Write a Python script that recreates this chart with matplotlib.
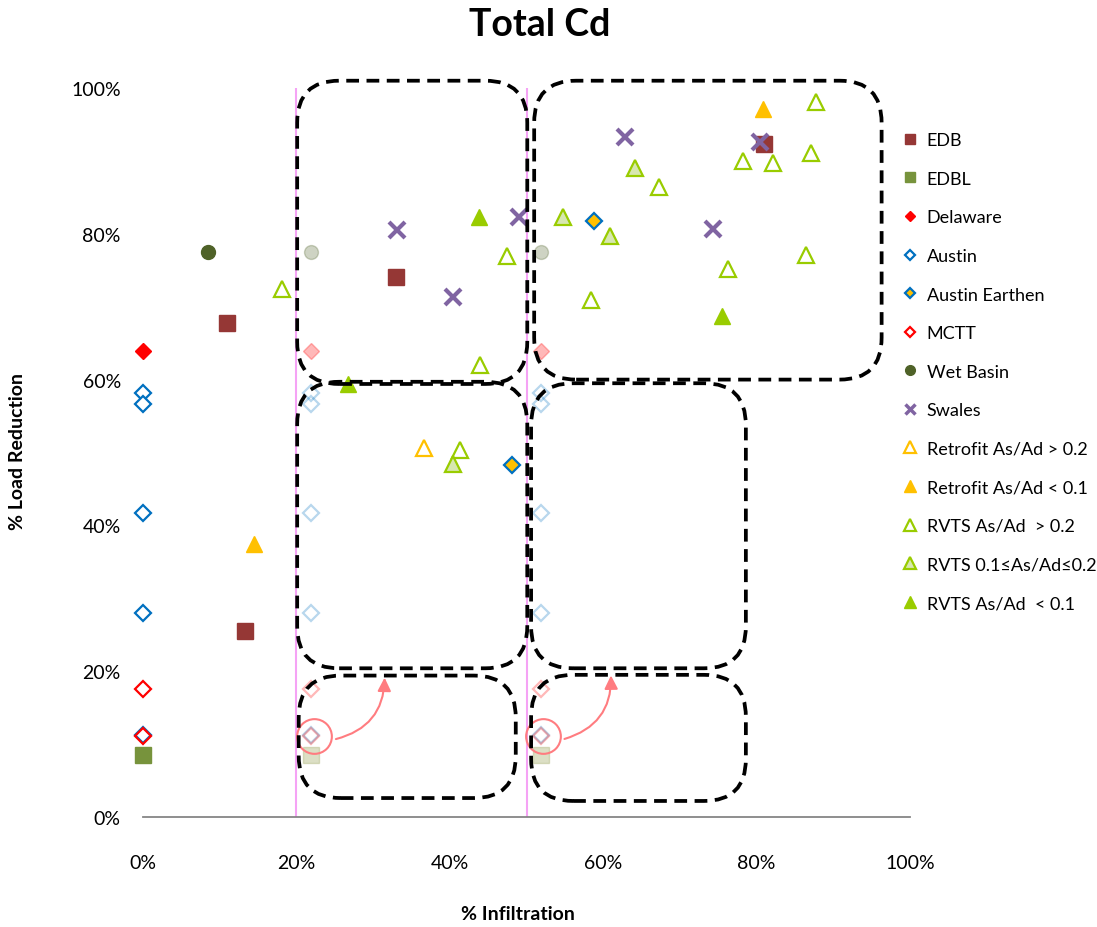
import matplotlib
matplotlib.use("Agg")
import matplotlib.pyplot as plt
from matplotlib.lines import Line2D
from matplotlib.patches import FancyBboxPatch, FancyArrowPatch

plt.rcParams['font.family'] = ['Lato', 'DejaVu Sans']

# ---- data (fractions) ----
edb_x = [0.110, 0.330, 0.133, 0.810]
edb_y = [0.678, 0.741, 0.255, 0.923]
edbl_x = [0.0]
edbl_y = [0.085]
delaware_x = [0.0]
delaware_y = [0.639]
austin_x = [0.0, 0.0, 0.0, 0.0, 0.0]
austin_y = [0.582, 0.567, 0.417, 0.280, 0.112]
earthen_x = [0.588, 0.481]
earthen_y = [0.818, 0.483]
mctt_x = [0.0, 0.0]
mctt_y = [0.176, 0.111]
wet_x = [0.085]
wet_y = [0.775]
swales_x = [0.331, 0.404, 0.490, 0.628, 0.743, 0.804]
swales_y = [0.805, 0.713, 0.823, 0.933, 0.807, 0.926]
retro_hi_x = [0.366]
retro_hi_y = [0.506]
retro_lo_x = [0.808, 0.145]
retro_lo_y = [0.971, 0.375]
rvts_hi_x = [0.181, 0.475, 0.439, 0.413, 0.673, 0.584, 0.782, 0.821, 0.871, 0.877, 0.763, 0.864]
rvts_hi_y = [0.724, 0.770, 0.620, 0.503, 0.864, 0.709, 0.900, 0.897, 0.911, 0.981, 0.752, 0.771]
rvts_mid_x = [0.548, 0.641, 0.609, 0.404]
rvts_mid_y = [0.823, 0.890, 0.797, 0.484]
rvts_lo_x = [0.438, 0.267, 0.755]
rvts_lo_y = [0.823, 0.594, 0.687]

# faded copies of the 0% column pasted at two positions
ghost_x = [0.219, 0.519]
ghost_wet_y = [0.775]
ghost_del_y = [0.639]
ghost_austin_y = [0.582, 0.567, 0.417, 0.280, 0.112]
ghost_mctt_y = [0.176, 0.111]
ghost_edbl_y = [0.085]

# dashed zone boxes: (x0, y0, x1, y1)
zones = [
    (0.201, 0.594, 0.501, 1.010),
    (0.510, 0.600, 0.963, 1.010),
    (0.201, 0.204, 0.501, 0.597),
    (0.506, 0.204, 0.786, 0.595),
    (0.203, 0.026, 0.486, 0.194),
    (0.506, 0.022, 0.786, 0.195),
]
circled = [(0.223, 0.111), (0.521, 0.111)]
arrow_end = [(0.315, 0.195), (0.610, 0.198)]

W, H = 1097, 928
fig = plt.figure(figsize=(W / 100, H / 100), dpi=100)
ax = fig.add_axes([143 / W, (H - 818) / H, 767 / W, 729 / H])
ax.set_xlim(0, 1)
ax.set_ylim(0, 1)

ax.axvline(0.2, color='#F5A3F5', lw=1.5, zorder=1)
ax.axvline(0.5, color='#F5A3F5', lw=1.5, zorder=1)

ga = 0.28
for gx in ghost_x:
    ax.plot([gx] * len(ghost_wet_y), ghost_wet_y, 'o', ms=10, color='#4F6228', alpha=ga, ls='none', zorder=2)
    ax.plot([gx] * len(ghost_del_y), ghost_del_y, 'D', ms=8, color='#FF0000', alpha=ga, ls='none', zorder=2)
    ax.plot([gx] * len(ghost_austin_y), ghost_austin_y, 'D', ms=8, mfc='none', mec='#0070C0', mew=1.6, alpha=ga, ls='none', zorder=2)
    ax.plot([gx] * len(ghost_mctt_y), ghost_mctt_y, 'D', ms=8, mfc='none', mec='#FF0000', mew=1.6, alpha=ga, ls='none', zorder=2)
    ax.plot([gx] * len(ghost_edbl_y), ghost_edbl_y, 's', ms=11, color='#A8B070', alpha=0.4, ls='none', zorder=2)

series = [
    ("EDB", edb_x, edb_y, dict(marker='s', ms=11, color='#953735')),
    ("EDBL", edbl_x, edbl_y, dict(marker='s', ms=11, color='#77933C')),
    ("Delaware", delaware_x, delaware_y, dict(marker='D', ms=8, color='#FF0000')),
    ("Austin", austin_x, austin_y, dict(marker='D', ms=8, mfc='white', mec='#0070C0', mew=1.6)),
    ("Austin Earthen", earthen_x, earthen_y, dict(marker='D', ms=8, mfc='#FFC000', mec='#0070C0', mew=1.6)),
    ("MCTT", mctt_x, mctt_y, dict(marker='D', ms=8, mfc='none', mec='#FF0000', mew=1.6)),
    ("Wet Basin", wet_x, wet_y, dict(marker='o', ms=10, color='#4F6228')),
    ("Swales", swales_x, swales_y, dict(marker='x', ms=11, mew=3, color='#8064A2')),
    ("Retrofit As/Ad > 0.2", retro_hi_x, retro_hi_y, dict(marker='^', ms=12, mfc='white', mec='#FFC000', mew=1.6)),
    ("Retrofit As/Ad < 0.1", retro_lo_x, retro_lo_y, dict(marker='^', ms=12, color='#FFC000')),
    ("RVTS As/Ad  > 0.2", rvts_hi_x, rvts_hi_y, dict(marker='^', ms=12, mfc='white', mec='#99CC00', mew=1.6)),
    ("RVTS 0.1\u2264As/Ad\u22640.2", rvts_mid_x, rvts_mid_y, dict(marker='^', ms=12, mfc='#D7E7B0', mec='#99CC00', mew=1.6)),
    ("RVTS As/Ad  < 0.1", rvts_lo_x, rvts_lo_y, dict(marker='^', ms=12, color='#99CC00')),
]

handles = []
for name, xs, ys, st in series:
    ax.plot(xs, ys, ls='none', zorder=3, clip_on=False, **st)
    hst = dict(st)
    hst['ms'] = st['ms'] * 0.7
    if hst['marker'] == 'x':
        hst['mew'] = 2.5
    handles.append(Line2D([], [], ls='none', label=name, **hst))

# circles and arrows
for (cx, cy), (ex, ey) in zip(circled, arrow_end):
    ax.plot([cx], [cy], 'o', ms=25, mfc='none', mec='#FF7C80', mew=1.5, zorder=4)
    arr = FancyArrowPatch((cx + 0.025, cy - 0.005), (ex, ey), connectionstyle='arc3,rad=0.4',
                          arrowstyle='-|>,head_length=8,head_width=4', color='#FF7C80', lw=1.5,
                          zorder=4, clip_on=False)
    ax.add_patch(arr)

# dashed rounded boxes drawn in pixel space
fig.canvas.draw()
for x0, y0, x1, y1 in zones:
    (px0, py0), (px1, py1) = ax.transData.transform([(x0, y0), (x1, y1)])
    box = FancyBboxPatch((px0, py0), px1 - px0, py1 - py0,
                         boxstyle='round,pad=0,rounding_size=42', transform=None,
                         fill=False, ec='black', lw=2.7, ls=(0, (3.4, 2.0)), zorder=5)
    fig.patches.append(box)
    box.set_figure(fig)

for s in ['left', 'right', 'top']:
    ax.spines[s].set_visible(False)
ax.spines['bottom'].set_color('#868686')
ax.spines['bottom'].set_linewidth(1.3)

ticks = [0, 0.2, 0.4, 0.6, 0.8, 1.0]
labels = ['0%', '20%', '40%', '60%', '80%', '100%']
ax.set_xticks(ticks)
ax.set_xticklabels(labels)
ax.set_yticks(ticks)
ax.set_yticklabels(labels)
ax.tick_params(axis='both', length=0, labelsize=14)
ax.tick_params(axis='x', pad=27)
ax.tick_params(axis='y', pad=16)

fig.text(540 / W, 1 - 25 / H, 'Total Cd', ha='center', va='center', fontsize=27, fontweight='bold')
fig.text(18 / W, 1 - 452 / H, '% Load Reduction', rotation=90, ha='center', va='center',
         fontsize=14, fontweight='bold')
fig.text(518 / W, 1 - 915 / H, '% Infiltration', ha='center', va='center', fontsize=14, fontweight='bold')

fig.legend(handles=handles, loc='upper left', bbox_to_anchor=(896 / W, 1 - 126 / H), frameon=False,
           fontsize=13, labelspacing=1.25, handlelength=0.8, handletextpad=0.5, borderaxespad=0)

fig.savefig('out.png', dpi=100)
